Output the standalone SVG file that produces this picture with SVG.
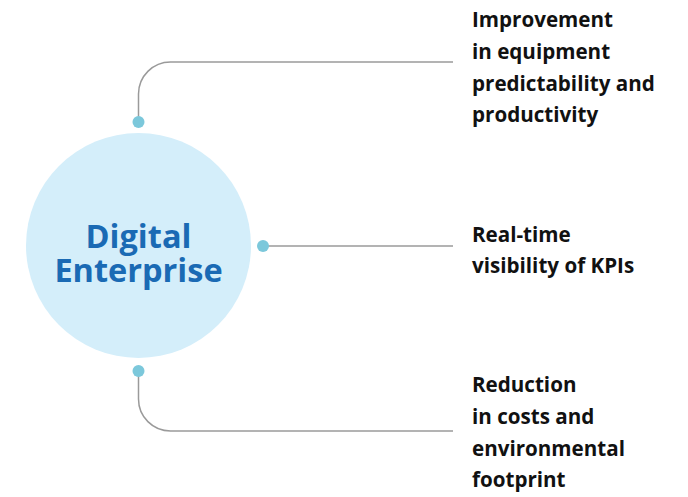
<svg xmlns="http://www.w3.org/2000/svg" width="688" height="497" viewBox="0 0 688 497">
<style>
.lbl{font-family:"Open Sans","Noto Sans","Liberation Sans",sans-serif;font-weight:700;font-size:20.6px;fill:#111}
.title{font-family:"Open Sans","Noto Sans","Liberation Sans",sans-serif;font-weight:700;font-size:32.5px;fill:#1a6ab4}
.conn{fill:none;stroke:#9a9a9a;stroke-width:1.5}
.dot{fill:#7cc8db}
</style>
<rect width="688" height="497" fill="#fff"/>
<g id="connectors">
<path class="conn" d="M138.5 122 V94 A32 32 0 0 1 170.5 62 H453"/>
<path class="conn" d="M263 246 H453"/>
<path class="conn" d="M138.5 371 V399 A32 32 0 0 0 170.5 431 H453"/>
<circle class="dot" cx="138.5" cy="122" r="6"/>
<circle class="dot" cx="263" cy="246" r="6"/>
<circle class="dot" cx="138.5" cy="371" r="6"/>
</g>
<g id="center">
<circle cx="138.5" cy="245.5" r="112.5" fill="#d4eefa"/>
<text class="title" x="138.5" y="248" text-anchor="middle">Digital</text>
<text class="title" x="138.5" y="282" text-anchor="middle">Enterprise</text>
</g>
<g id="improvement">
<text class="lbl" x="472" y="27">Improvement</text>
<text class="lbl" x="472" y="59">in equipment</text>
<text class="lbl" x="472" y="91">predictability and</text>
<text class="lbl" x="472" y="122">productivity</text>
</g>
<g id="realtime">
<text class="lbl" x="472" y="242">Real-time</text>
<text class="lbl" x="472" y="273">visibility of KPIs</text>
</g>
<g id="reduction">
<text class="lbl" x="472" y="392">Reduction</text>
<text class="lbl" x="472" y="424">in costs and</text>
<text class="lbl" x="472" y="456">environmental</text>
<text class="lbl" x="472" y="487">footprint</text>
</g>
</svg>
